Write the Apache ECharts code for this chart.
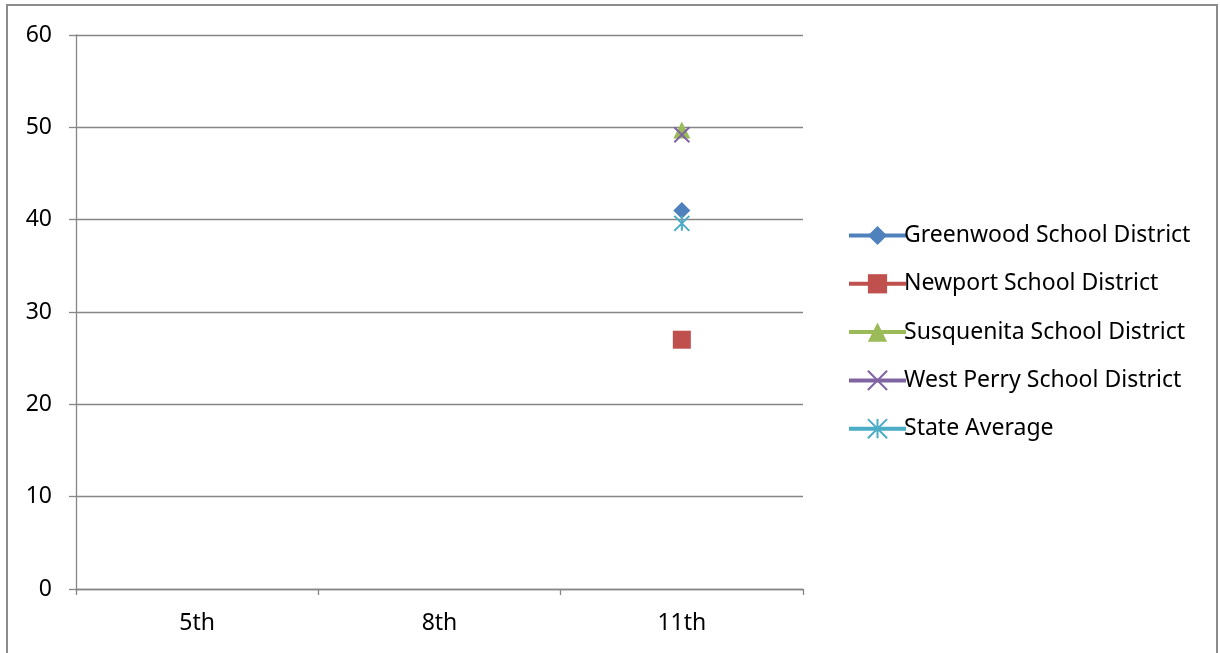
<!DOCTYPE html>
<html><head><meta charset="utf-8">
<script src="https://cdn.jsdelivr.net/npm/echarts@6/dist/echarts.min.js"></script>
<style>html,body{margin:0;padding:0;background:#fff}#c{width:1220px;height:653px}</style>
</head><body><div id="c"></div>
<script>
const categories = ['5th', '8th', '11th'];
const greenwood = [null, null, 41.0];
const newport = [null, null, 27.0];
const susquenita = [null, null, 49.7];
const westPerry = [null, null, 49.2];
const stateAverage = [null, null, 39.6];
const seriesNames = ['Greenwood School District', 'Newport School District', 'Susquenita School District', 'West Perry School District', 'State Average'];

const FONT = 'Noto Sans';
const crossPath = 'path://M0,0L10,10M10,0L0,10';
const starPath = 'path://M0,0L10,10M10,0L0,10M5,0L5,10';

function mk(name, data, color, symbol, size, stroke) {
  return {
    name, type: 'line', data, symbol, symbolSize: size,
    showSymbol: true, connectNulls: false,
    lineStyle: { color, width: 4 },
    itemStyle: stroke ? { color: color, borderColor: color, borderWidth: 2 } : { color },
    emphasis: { disabled: true }
  };
}

const chart = echarts.init(document.getElementById('c'), null, { renderer: 'canvas' });
chart.setOption({
  animation: false,
  backgroundColor: '#fff',
  graphic: [{
    type: 'polyline',
    shape: { points: [[7, 660], [7, 5], [1217, 5], [1217, 660]] },
    style: { stroke: '#8c8c8c', lineWidth: 2, fill: null }
  }],
  grid: { left: 76, right: 417, top: 35, bottom: 64 },
  xAxis: {
    type: 'category', data: categories, boundaryGap: true,
    axisLine: { lineStyle: { color: '#868686', width: 1.3 } },
    axisTick: { show: true, length: 6, inside: false, lineStyle: { color: '#868686', width: 1.3 } },
    axisLabel: { color: '#000', fontFamily: FONT, fontSize: 23, margin: 23 }
  },
  yAxis: {
    type: 'value', min: 0, max: 60, interval: 10,
    axisLine: { show: true, lineStyle: { color: '#868686', width: 1.3 } },
    axisTick: { show: true, length: 7, lineStyle: { color: '#868686', width: 1.3 } },
    splitLine: { lineStyle: { color: '#868686', width: 1.3 } },
    axisLabel: { color: '#000', fontFamily: FONT, fontSize: 23, margin: 24 }
  },
  legend: {
    orient: 'vertical', left: 842, top: 219,
    itemWidth: 57, itemHeight: 24, itemGap: 25.3,
    lineStyle: { width: 4 },
    textStyle: { color: '#000', fontFamily: FONT, fontSize: 23, padding: [0, 0, 0, -7] },
    data: seriesNames
  },
  series: [
    mk(seriesNames[0], greenwood, '#4f81bd', 'diamond', 17, false),
    mk(seriesNames[1], newport, '#c0504d', 'rect', 18, false),
    mk(seriesNames[2], susquenita, '#9bbb59', 'triangle', 17, false),
    mk(seriesNames[3], westPerry, '#8064a2', crossPath, 15, true),
    mk(seriesNames[4], stateAverage, '#4bacc6', starPath, 15, true)
  ]
});
</script></body></html>
